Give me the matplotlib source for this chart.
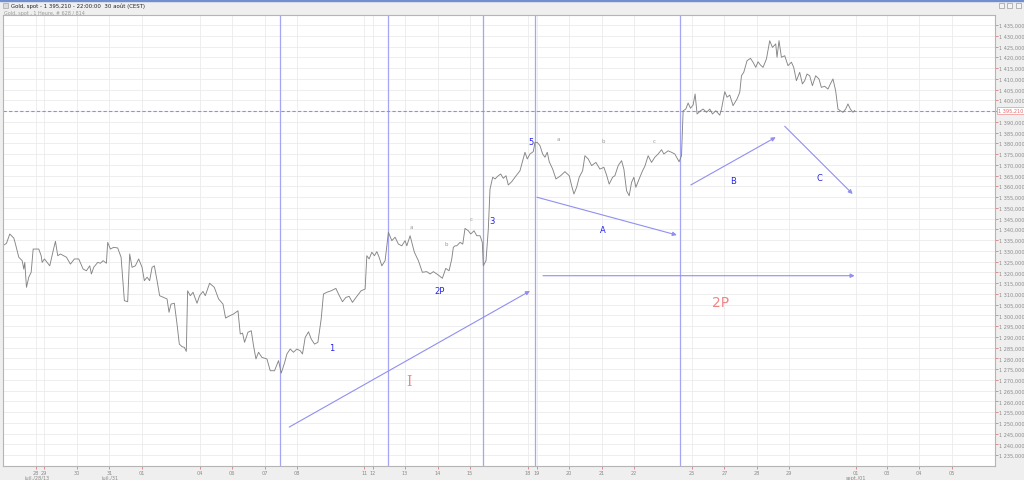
import matplotlib.pyplot as plt
from matplotlib.ticker import FuncFormatter

# price trace (horizontal position along the time axis, price)
bar_x = [4, 6, 9.3, 13.3, 15, 18.3, 21.7, 23.3, 24.3, 26, 28.3, 30.7, 32.7, 38.3, 40.7, 41.7,
         44, 46.7, 49.3, 52.7, 55, 57.3, 60, 63.3, 66, 70, 74, 78.3, 82.7, 86, 89.3, 91,
         93.3, 97.3, 100, 102.7, 106, 107.3, 110, 113.3, 117.3, 120.7, 124, 127.3, 129.3, 131.7,
         135, 138.3, 141.7, 144, 146.7, 149.3, 151.7, 154, 156.7, 159.3, 163.3, 166.7, 168.7,
         170.7, 174, 176.7, 179, 181.7, 184, 186, 187.3, 190, 192.7, 196.7, 199.3, 202.7, 205,
         209.3, 214, 218.3, 222.7, 225.3, 228.3, 233.3, 237.7, 240, 242.3, 244.3, 247.7, 251,
         253.3, 255.7, 258.3, 261.7, 266.7, 270, 274.3, 278.3, 281, 284.3, 286.7, 290, 293.3,
         296.7, 300, 302.3, 305, 308.3, 311, 314.3, 317.7, 321, 323.3, 326.7, 331, 335.7, 338.3,
         342.3, 345.7, 349, 352.3, 356.7, 361, 365, 366.7, 369, 371.7, 374.3, 376.7, 379, 381.7,
         385, 388.3, 391.7, 395, 398.3, 401.7, 405, 406.7, 410, 414.3, 418.3, 422.3, 426.7, 430,
         433.3, 438.3, 442.3, 445.7, 449, 451.7, 453.3, 455, 456.7, 460, 462.7, 465, 468.3, 470.7,
         474, 476.7, 480, 482.3, 483.3, 486, 488.3, 490, 492.7, 495, 498.3, 500.7, 503.3, 506,
         508.3, 511.7, 515, 520, 522.7, 525, 527.3, 530, 533.3, 535, 537.3, 540, 542.7, 545,
         547.3, 549.3, 552.7, 556, 560.7, 565, 569.3, 571.7, 574, 576.7, 579.3, 582.7, 585,
         588.3, 591.7, 596, 600, 604, 606.7, 609.3, 612.7, 615, 618.3, 621.7, 624, 626.7, 629.3,
         631.7, 634, 636, 639.3, 642.7, 645, 648.3, 651.7, 655, 658.3, 661.7, 664, 668.3, 671.7,
         675, 679.3, 681.7, 683.3, 686, 688.3, 690.7, 693.3, 695.3, 697.3, 700.7, 703.3, 706.7,
         710, 712.7, 716, 720, 721.7, 725, 727.3, 730, 733.3, 737.3, 740, 741.7, 744, 747.3,
         750.7, 753.3, 756, 758.3, 760.7, 763.3, 766.7, 770, 772.7, 776, 777.3, 779.3, 781.7,
         785, 788.3, 791.7, 794, 796.7, 800, 802.7, 805, 807.3, 810, 812.7, 816, 819.3, 821.7,
         825, 828.3, 830.7, 833.3, 836, 838.3, 840.7, 843.3, 846, 848.3, 850.7, 853.3, 855]
price = [1332.8, 1333.5, 1337.8, 1335.9, 1333.1, 1327.0, 1325.4, 1321.5, 1324.6, 1313.0, 1317.7,
         1320.0, 1330.8, 1330.8, 1327.7, 1324.6, 1326.2, 1324.6, 1323.0, 1330.0, 1334.4, 1327.7,
         1328.5, 1327.7, 1327.0, 1323.8, 1326.2, 1326.2, 1321.5, 1320.7, 1323.0, 1319.2, 1322.3,
         1324.6, 1324.2, 1325.4, 1324.2, 1333.9, 1330.8, 1331.6, 1331.3, 1327.0, 1306.8, 1306.3,
         1328.5, 1322.3, 1323.0, 1326.2, 1322.3, 1316.1, 1317.7, 1316.1, 1322.3, 1323.0, 1316.1,
         1309.1, 1308.3, 1307.6, 1301.4, 1305.2, 1305.6, 1295.9, 1286.6, 1285.4, 1285.1, 1283.2,
         1311.4, 1309.1, 1310.7, 1305.6, 1309.1, 1311.1, 1309.1, 1314.9, 1313.0, 1307.6, 1305.2,
         1298.7, 1299.5, 1300.6, 1302.1, 1291.3, 1291.7, 1287.4, 1292.1, 1292.8, 1285.8, 1279.7,
         1282.8, 1280.4, 1279.7, 1274.2, 1274.2, 1278.9, 1273.1, 1277.8, 1282.0, 1284.3, 1282.8,
         1284.3, 1283.5, 1282.0, 1289.7, 1292.3, 1289.0, 1286.6, 1287.4, 1298.3, 1309.9, 1310.7,
         1311.4, 1312.5, 1309.9, 1306.3, 1308.3, 1308.8, 1306.0, 1308.8, 1311.4, 1312.2, 1327.7,
         1326.2, 1329.3, 1327.7, 1329.6, 1327.0, 1323.0, 1325.4, 1338.6, 1334.7, 1336.3, 1333.1,
         1332.3, 1334.7, 1332.3, 1337.0, 1329.3, 1325.4, 1320.0, 1320.3, 1319.2, 1320.3, 1318.7,
         1317.2, 1321.8, 1320.7, 1326.2, 1331.6, 1332.3, 1332.3, 1333.9, 1333.1, 1340.4, 1339.3,
         1337.8, 1339.3, 1337.0, 1337.0, 1333.9, 1323.0, 1325.4, 1340.1, 1358.7, 1364.2, 1363.4,
         1364.9, 1365.7, 1363.7, 1364.9, 1360.6, 1362.1, 1364.2, 1367.2, 1371.9, 1375.8, 1372.7,
         1375.0, 1376.1, 1380.4, 1380.4, 1378.9, 1375.0, 1373.5, 1375.8, 1371.4, 1368.0, 1363.4,
         1364.9, 1366.8, 1364.9, 1360.3, 1356.4, 1359.5, 1364.2, 1367.2, 1374.2, 1372.7, 1369.6,
         1371.1, 1368.0, 1368.8, 1365.2, 1361.0, 1364.2, 1364.9, 1369.6, 1371.9, 1368.0, 1357.9,
         1355.6, 1361.8, 1364.2, 1359.5, 1363.4, 1367.2, 1369.3, 1374.2, 1371.1, 1373.5, 1375.0,
         1377.0, 1375.0, 1376.5, 1375.8, 1375.0, 1371.4, 1374.2, 1395.1, 1395.9, 1398.7, 1396.3,
         1397.8, 1402.9, 1393.6, 1395.1, 1395.9, 1394.4, 1395.9, 1393.6, 1395.1, 1393.1, 1395.9,
         1404.0, 1401.4, 1402.4, 1397.5, 1400.6, 1403.7, 1411.4, 1413.0, 1418.4, 1419.5, 1417.7,
         1415.3, 1417.9, 1416.4, 1415.3, 1419.2, 1427.7, 1424.6, 1426.2, 1420.0, 1427.7, 1420.0,
         1420.7, 1416.1, 1417.7, 1415.3, 1409.1, 1413.0, 1407.6, 1409.1, 1412.2, 1411.4, 1406.8,
         1411.4, 1409.9, 1406.0, 1406.5, 1405.2, 1407.6, 1409.9, 1404.4, 1395.9, 1395.1, 1394.4,
         1395.9, 1398.3, 1395.9, 1394.4, 1395.21]

last_price = 1395.21

day_ticks = [35.7, 43.7, 76.7, 109, 141.7, 200, 232, 264.7, 297, 364, 372.7, 405, 437.7, 470,
             528, 536.7, 569, 601.7, 634, 692, 724.7, 757, 789, 856, 887, 919, 952]
day_labels = ['28', '29', '30', '31', '01', '04', '06', '07', '08', '11', '12', '13', '14', '15',
              '18', '19', '20', '21', '22', '25', '27', '28', '29', '01', '03', '04', '05']
month_labels = [('juil./28/13', 36), ('juil./31', 109), ('sept./01', 856)]

# drawn annotations
vlines_x = [280, 388.3, 483.3, 535.5, 680.5]
arrows = [((289, 1248.0), (530, 1311.3)),
          ((537, 1354.9), (677, 1337.3)),
          ((543, 1318.4), (855, 1318.4)),
          ((691, 1360.6), (776, 1382.8)),
          ((785, 1387.9), (853, 1356.4))]
wave_labels = [('1', 332, 1285.2), ('2P', 440, 1311.3), ('3', 492, 1344.3), ('5', 531, 1380.6),
               ('A', 603, 1339.7), ('B', 733, 1362.9), ('C', 820, 1364.3)]
sub_labels = [('a', 411, 1341.5), ('b', 446, 1333.6), ('c', 471, 1345.2),
              ('a', 558, 1382.0), ('b', 603, 1381.5), ('c', 654, 1381.5)]
big_labels = [('I', 409, 1269.4, 'DejaVu Serif'), ('2P', 721, 1306.2, 'DejaVu Sans')]

fig = plt.figure(figsize=(10.24, 4.81), dpi=100, facecolor='#efefef')
ax = fig.add_axes([3 / 1024, 14 / 481, 992 / 1024, 451 / 481])
ax.set_facecolor('white')

ax.plot(bar_x, price, color='#858585', lw=0.65, zorder=3)

for x in vlines_x:
    ax.axvline(x, color='#a5a5f5', lw=0.9, zorder=2)

ax.axhline(last_price, color='#8c8cf2', lw=0.8, ls=(0, (3, 2)), zorder=2)

for (x0, y0), (x1, y1) in arrows:
    ax.annotate('', xy=(x1, y1), xytext=(x0, y0),
                arrowprops=dict(arrowstyle='-|>', color='#9090f0', lw=0.8,
                                mutation_scale=6, shrinkA=0, shrinkB=0), zorder=4)

for t, x, y in wave_labels:
    ax.text(x, y, t, color='#2626e6', fontsize=6, ha='center', va='center', zorder=5)
for t, x, y in sub_labels:
    ax.text(x, y, t, color='#999999', fontsize=4, ha='center', va='center', zorder=5)
for t, x, y, fam in big_labels:
    ax.text(x, y, t, color='#f08585', fontsize=10, family=fam,
            ha='center', va='center', zorder=5)

ax.set_xlim(2.5, 995.5)
ax.set_ylim(1229.9, 1439.65)

ax.set_xticks(day_ticks)
ax.set_xticklabels(day_labels)
ax.set_yticks(range(1235, 1436, 5))
ax.yaxis.set_major_formatter(FuncFormatter(lambda v, p: '1 %03d,000' % (int(v) - 1000)))
ax.yaxis.tick_right()
ax.tick_params(axis='both', colors='#e07a7a', length=2, width=0.6, labelsize=3.6,
               labelcolor='#8a8a8a', pad=1)
ax.grid(True, color='#ebebeb', lw=0.6, zorder=0)
ax.set_axisbelow(True)
for s in ax.spines.values():
    s.set_color('#b5b5b5')
    s.set_linewidth(0.8)

for t, x in month_labels:
    ax.text(x, -0.025, t, transform=ax.get_xaxis_transform(), fontsize=3.6,
            color='#8a8a8a', ha='center', va='center')

# last price box on the scale
ax.text(1.0035, last_price, '1 395,210', transform=ax.get_yaxis_transform(),
        color='#e06a6a', fontsize=3.6, va='center', ha='left', zorder=6,
        bbox=dict(boxstyle='square,pad=0.2', fc='white', ec='#f0a0a0', lw=0.6))

# window header
fig.patches.append(plt.Rectangle((0, 1 - 2 / 481), 1, 2 / 481, transform=fig.transFigure,
                                 color='#6f8fd0', zorder=0))
fig.patches.append(plt.Rectangle((3 / 1024, 1 - 9 / 481), 5 / 1024, 5 / 481,
                                 transform=fig.transFigure, fc='#dddddd', ec='#999999',
                                 lw=0.4))
for ix in [999, 1007, 1016]:
    fig.patches.append(plt.Rectangle((ix / 1024, 1 - 9 / 481), 5 / 1024, 5 / 481,
                                     transform=fig.transFigure, fc='#f4f4f4', ec='#888888',
                                     lw=0.4))
fig.text(11 / 1024, 1 - 6 / 481, 'Gold, spot - 1 395,210 - 22:00:00  30 août (CEST)',
         fontsize=3.9, color='#222222', va='center', ha='left')
fig.text(4 / 1024, 1 - 13 / 481, 'Gold, spot , 1 Heure, # 628 / 814',
         fontsize=3.5, color='#999999', va='center', ha='left')

fig.savefig('out.png', dpi=100, facecolor=fig.get_facecolor())
